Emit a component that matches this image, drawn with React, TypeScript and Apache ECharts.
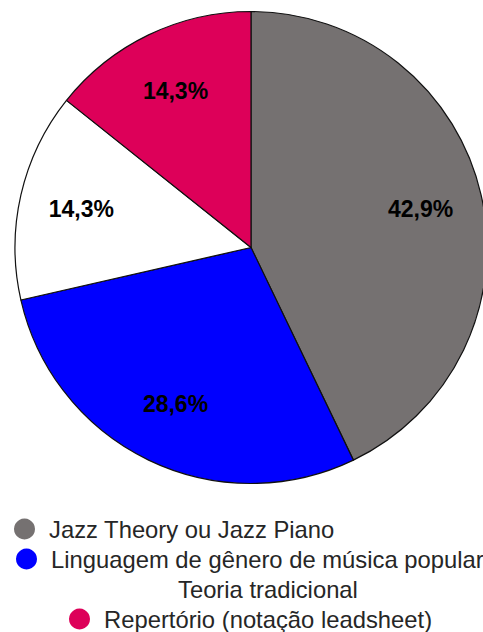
import React, { useEffect, useRef } from "react";
import * as echarts from "echarts";

// Topics and their response counts, clockwise from 12 o'clock
const categories = [
  "Jazz Theory ou Jazz Piano",
  "Linguagem de gênero de música popular",
  "Teoria tradicional",
  "Repertório (notação leadsheet)",
];
const counts = [3, 2, 1, 1];
const sliceColors = ["#757171", "#0000ff", "#ffffff", "#dd0059"];

// Where each legend row sits (left edge, top edge), one row per topic
const legendLeft = [14, 16, 143, 69];
const legendTop = [517, 547, 577, 607];

const FONT = "'Liberation Sans', Arial, sans-serif";

export default function App() {
  const ref = useRef<HTMLDivElement>(null);

  useEffect(() => {
    if (!ref.current) return;
    const chart = echarts.init(ref.current, null, { renderer: "svg" });

    const total = counts.reduce((a, b) => a + b, 0);
    const pieData = categories.map((name, i) => ({
      name,
      value: counts[i],
      itemStyle: { color: sliceColors[i] },
    }));

    // share of each slice, one decimal, Portuguese decimal comma
    const fmt = (p: any) =>
      ((p.value / total) * 100).toFixed(1).replace(".", ",") + "%";

    chart.setOption({
      animation: false,
      backgroundColor: "#ffffff",
      legend: categories.map((name, i) => ({
        data: [name],
        orient: "horizontal",
        left: legendLeft[i],
        top: legendTop[i],
        padding: 0,
        icon: "circle",
        itemWidth: 39,
        itemHeight: 21,
        itemStyle: { borderWidth: 0 },
        selectedMode: false,
        textStyle: {
          fontFamily: FONT,
          fontSize: 23.8,
          color: "#262626",
          lineHeight: 24,
        },
      })),
      series: [
        {
          type: "pie",
          center: [251, 247.5],
          radius: [0, 236],
          startAngle: 90,
          clockwise: true,
          silent: true,
          label: { show: false },
          labelLine: { show: false },
          itemStyle: { borderColor: "#111111", borderWidth: 1.2 },
          emphasis: { disabled: true },
          data: pieData,
        },
        {
          // transparent ring that only carries the percentage labels
          type: "pie",
          center: [251, 247.5],
          radius: [106, 236],
          startAngle: 90,
          clockwise: true,
          silent: true,
          legendHoverLink: false,
          itemStyle: { color: "rgba(0,0,0,0)", borderWidth: 0 },
          label: {
            show: true,
            position: "inside",
            formatter: fmt,
            fontFamily: FONT,
            fontWeight: "bold",
            fontSize: 23,
            color: "#000000",
          },
          labelLine: { show: false },
          emphasis: { disabled: true },
          data: categories.map((name, i) => ({ name, value: counts[i] })),
        },
      ],
    });

    return () => chart.dispose();
  }, []);

  return (
    <div
      ref={ref}
      style={{ position: "absolute", left: 0, top: 0, width: 483, height: 632 }}
    />
  );
}
